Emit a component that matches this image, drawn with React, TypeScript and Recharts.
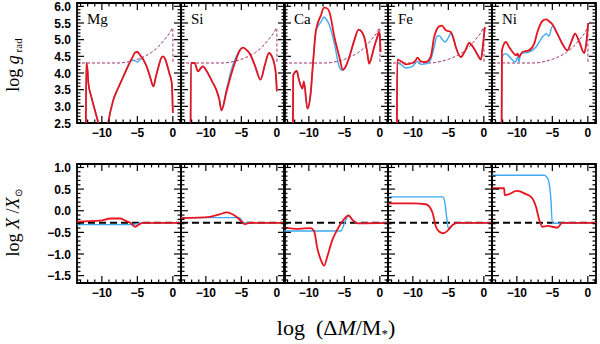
import React from "react";
import { LineChart, Line, XAxis, YAxis, ReferenceArea } from "recharts";

// x axis: log(ΔM/M*)
const X_DOMAIN: [number, number] = [-13.5, 1.15];
const X_MAJOR = [-10, -5, 0];
const X_MINOR_FROM = -13;
const X_MINOR_TO = 1;

// y axes
const TOP_DOMAIN: [number, number] = [2.5, 6.1];
const TOP_MAJOR = [2.5, 3.0, 3.5, 4.0, 4.5, 5.0, 5.5, 6.0];
const BOT_DOMAIN: [number, number] = [-1.67, 1.08];
const BOT_MAJOR = [-1.5, -1.0, -0.5, 0.0, 0.5, 1.0];

const ELEMENTS = ["Mg", "Si", "Ca", "Fe", "Ni"];

// dashed curve in the upper panels (same for each element)
const gravity = [
  [-13.5, 4.3], [-8, 4.3], [-7, 4.31], [-6, 4.35], [-5, 4.41], [-4, 4.5],
  [-3, 4.62], [-2, 4.8], [-1, 5.05], [-0.5, 5.18], [0, 5.35], [0.02, 4.3],
];

// log g_rad, red = full model, blue = reference model
const mgRed = [
  [-12.25, 2.3], [-12.2, 4.3], [-12.0, 4.05], [-11.9, 3.7], [-11.5, 3.3], [-11.0, 2.9],
  [-10.5, 2.5], [-10.2, 2.2], [-9.3, 2.2], [-9.1, 2.5], [-8.4, 3.18], [-7.7, 3.55],
  [-7.0, 3.88], [-6.25, 4.23], [-5.55, 4.53], [-5.3, 4.62], [-5.0, 4.63], [-4.6, 4.53],
  [-4.1, 4.38], [-3.66, 4.18], [-3.2, 3.88], [-2.73, 3.6], [-2.4, 3.88], [-2.0, 4.2],
  [-1.7, 4.42], [-1.4, 4.5], [-1.1, 4.43], [-0.85, 4.27], [-0.5, 4.0], [-0.14, 3.69], [0.0, 2.8],
];
const mgBlue = [
  [-12.25, 2.3], [-12.2, 4.3], [-12.0, 4.05], [-11.9, 3.7], [-11.5, 3.3], [-11.0, 2.9],
  [-10.5, 2.5], [-10.2, 2.2], [-9.3, 2.2], [-9.1, 2.5], [-8.4, 3.18], [-7.7, 3.55],
  [-7.0, 3.88], [-6.25, 4.25], [-5.8, 4.4], [-5.4, 4.37], [-5.0, 4.33], [-4.6, 4.4],
  [-4.3, 4.46], [-4.1, 4.38], [-3.66, 4.18], [-3.2, 3.88], [-2.73, 3.6], [-2.4, 3.88],
  [-2.0, 4.2], [-1.7, 4.42], [-1.4, 4.5], [-1.1, 4.43], [-0.85, 4.27], [-0.5, 4.0],
  [-0.14, 3.69], [0.0, 2.8],
];
const siRed = [
  [-12.15, 2.3], [-12.1, 4.3], [-11.6, 4.3], [-11.1, 4.05], [-10.7, 4.15], [-10.4, 4.2],
  [-10.0, 4.1], [-9.2, 3.78], [-8.5, 3.48], [-8.1, 3.2], [-7.8, 2.88], [-7.1, 3.43],
  [-6.4, 3.98], [-5.7, 4.43], [-5.2, 4.68], [-4.75, 4.76], [-4.3, 4.7], [-3.8, 4.58],
  [-3.1, 4.23], [-2.3, 3.8], [-1.7, 4.23], [-1.1, 4.6], [-0.7, 4.5], [-0.42, 4.33],
  [-0.15, 4.0], [0.0, 3.45],
];
const siBlue = [
  [-12.15, 2.3], [-12.1, 4.3], [-11.6, 4.3], [-11.1, 4.05], [-10.7, 4.15], [-10.4, 4.2],
  [-10.0, 4.1], [-9.2, 3.78], [-8.5, 3.48], [-8.1, 3.2], [-7.8, 2.88], [-7.1, 3.5],
  [-6.4, 4.1], [-5.7, 4.5], [-5.2, 4.7], [-4.75, 4.76], [-4.3, 4.7], [-3.8, 4.58],
  [-3.1, 4.23], [-2.3, 3.8], [-1.7, 4.23], [-1.1, 4.6], [-0.7, 4.5], [-0.42, 4.33],
  [-0.15, 4.0], [0.0, 3.45],
];
const caRed = [
  [-12.25, 2.3], [-12.2, 3.93], [-11.7, 4.06], [-11.4, 3.8], [-10.9, 3.53], [-10.7, 3.75],
  [-10.2, 2.93], [-9.75, 3.38], [-9.4, 4.33], [-9.0, 5.28], [-8.3, 5.73], [-7.85, 5.96],
  [-7.5, 5.95], [-7.1, 5.83], [-6.4, 5.08], [-5.7, 4.48], [-5.2, 4.1], [-4.8, 4.2],
  [-4.3, 4.48], [-3.6, 4.98], [-3.0, 5.3], [-2.6, 5.25], [-2.2, 5.08], [-1.8, 4.65],
  [-1.5, 4.28], [-1.2, 4.45], [-0.8, 4.78], [-0.4, 5.05], [-0.1, 5.23], [0.0, 5.1], [0.1, 4.63],
];
const caBlue = [
  [-12.25, 2.3], [-12.2, 3.93], [-11.7, 4.06], [-11.4, 3.8], [-10.9, 3.53], [-10.7, 3.75],
  [-10.2, 2.93], [-9.75, 3.38], [-9.4, 4.33], [-9.0, 5.28], [-8.3, 5.53], [-7.85, 5.68],
  [-7.5, 5.6], [-7.1, 5.43], [-6.4, 4.88], [-5.7, 4.18], [-5.3, 4.08], [-5.0, 4.12],
  [-4.8, 4.2], [-4.3, 4.48], [-3.6, 4.98], [-3.0, 5.3], [-2.6, 5.25], [-2.2, 5.08],
  [-1.8, 4.65], [-1.5, 4.28], [-1.2, 4.45], [-0.8, 4.78], [-0.4, 5.05], [-0.1, 5.23],
  [0.0, 5.1], [0.1, 4.63],
];
const feRed = [
  [-12.25, 2.3], [-12.2, 4.4], [-11.7, 4.36], [-11.0, 4.26], [-10.05, 4.3], [-9.6, 4.38],
  [-9.35, 4.46], [-8.9, 4.35], [-8.2, 4.33], [-7.5, 4.48], [-7.0, 5.08], [-6.6, 5.32],
  [-6.3, 5.4], [-5.9, 5.42], [-5.35, 5.28], [-4.65, 5.23], [-4.3, 5.05], [-3.95, 4.78],
  [-3.25, 4.48], [-2.6, 4.68], [-2.07, 4.9], [-1.37, 4.73], [-0.76, 4.5], [-0.42, 4.4],
  [-0.1, 4.88], [0.14, 5.38],
];
const feBlue = [
  [-12.25, 2.3], [-12.2, 4.3], [-11.7, 4.26], [-11.0, 4.15], [-10.05, 4.2], [-9.35, 4.35],
  [-8.9, 4.26], [-8.0, 4.28], [-7.5, 4.4], [-7.0, 4.78], [-6.6, 5.1], [-6.3, 5.12],
  [-5.8, 5.0], [-5.5, 4.93], [-4.9, 5.1], [-4.65, 5.2], [-4.3, 5.05], [-3.95, 4.78],
  [-3.25, 4.48], [-2.6, 4.68], [-2.07, 4.9], [-1.37, 4.73], [-0.76, 4.5], [-0.42, 4.4],
  [-0.1, 4.88], [0.14, 5.38],
];
const niRed = [
  [-12.15, 2.3], [-12.1, 4.68], [-11.55, 4.93], [-11.1, 4.78], [-10.6, 4.63], [-10.1, 4.53],
  [-9.9, 4.58], [-9.7, 4.48], [-9.2, 4.63], [-8.3, 4.68], [-7.55, 4.88], [-7.1, 5.23],
  [-6.4, 5.56], [-5.9, 5.61], [-5.5, 5.56], [-5.0, 5.46], [-4.3, 5.18], [-3.6, 4.88],
  [-2.9, 4.68], [-2.25, 4.98], [-1.8, 5.18], [-1.2, 4.93], [-0.5, 4.6], [-0.2, 4.93], [0.05, 5.5],
];
const niBlue = [
  [-12.15, 2.3], [-12.1, 4.5], [-11.55, 4.58], [-10.8, 4.43], [-10.2, 4.33], [-9.9, 4.48],
  [-9.7, 4.33], [-9.5, 4.58], [-8.3, 4.63], [-7.3, 4.78], [-6.4, 5.08], [-5.8, 5.18],
  [-5.5, 5.1], [-5.0, 5.4], [-4.3, 5.18], [-3.6, 4.88], [-2.9, 4.68], [-2.25, 4.98],
  [-1.8, 5.18], [-1.2, 4.93], [-0.5, 4.6], [-0.2, 4.93], [0.05, 5.5],
];

// log X/X_sun, lower panels
const solar = [[-13.5, -0.28], [1.15, -0.28]];
const mgRedX = [
  [-13.5, -0.25], [-10.2, -0.23], [-8.8, -0.18], [-7.4, -0.18], [-6.7, -0.23], [-6.0, -0.28],
  [-5.3, -0.37], [-4.9, -0.33], [-4.2, -0.28], [1.15, -0.28],
];
const mgBlueX = [[-13.5, -0.32], [-5.8, -0.32], [-5.0, -0.3], [-4.5, -0.28], [1.15, -0.28]];
const siRedX = [
  [-13.5, -0.17], [-9.4, -0.14], [-8.0, -0.08], [-7.05, -0.04], [-6.4, -0.07], [-5.7, -0.14],
  [-4.95, -0.25], [-4.5, -0.31], [-3.8, -0.28], [1.15, -0.28],
];
const siBlueX = [[-13.5, -0.16], [-5.3, -0.16], [-4.6, -0.28], [1.15, -0.28]];
const caRedX = [
  [-13.5, -0.39], [-11.4, -0.42], [-9.75, -0.4], [-9.25, -0.48], [-8.8, -0.87], [-8.3, -1.14],
  [-7.85, -1.27], [-7.4, -1.06], [-6.7, -0.68], [-6.0, -0.44], [-5.3, -0.25], [-4.4, -0.11],
  [-3.85, -0.21], [-3.15, -0.29], [1.15, -0.28],
];
const caBlueX = [
  [-13.5, -0.47], [-5.5, -0.47], [-4.9, -0.25], [-4.4, -0.11], [-3.85, -0.21], [-3.15, -0.29],
  [1.15, -0.28],
];
const feRedX = [
  [-13.5, 0.17], [-10, 0.17], [-8.2, 0.15], [-7.7, 0.1], [-7.2, -0.06], [-6.75, -0.37],
  [-6.3, -0.48], [-5.7, -0.52], [-5.1, -0.46], [-4.4, -0.33], [-3.7, -0.28], [1.15, -0.28],
];
const feBlueX = [
  [-13.5, 0.32], [-5.8, 0.32], [-5.5, 0.2], [-5.2, -0.2], [-5.0, -0.41], [-4.5, -0.34],
  [-4.0, -0.29], [1.15, -0.28],
];
const niRedX = [
  [-13.5, 0.52], [-11.8, 0.52], [-11.7, 0.36], [-10.85, 0.4], [-10.1, 0.46], [-9.45, 0.44],
  [-8.95, 0.4], [-8.0, 0.32], [-7.3, 0.09], [-6.85, -0.21], [-6.4, -0.37], [-5.7, -0.35],
  [-5.0, -0.37], [-4.3, -0.39], [-3.6, -0.28], [1.15, -0.28],
];
const niBlueX = [
  [-13.5, 0.82], [-6.15, 0.82], [-5.8, 0.78], [-5.55, 0.71], [-5.2, 0.25], [-5.0, -0.29],
  [1.15, -0.28],
];

const TOP_RED = [mgRed, siRed, caRed, feRed, niRed];
const TOP_BLUE = [mgBlue, siBlue, caBlue, feBlue, niBlue];
const BOT_RED = [mgRedX, siRedX, caRedX, feRedX, niRedX];
const BOT_BLUE = [mgBlueX, siBlueX, caBlueX, feBlueX, niBlueX];

const RED = "#e8141f";
const BLUE = "#3eaaf0";
const PURPLE = "#a0306a";
const PW = 104;
const ML = 40;
const COL_LEFT = [77, 181, 284, 388, 492];
const ROWS = [
  { top: 3, h: 120, domain: TOP_DOMAIN, major: TOP_MAJOR },
  { top: 164, h: 119, domain: BOT_DOMAIN, major: BOT_MAJOR },
];

const pts = (a: number[][]) => a.map(([x, y]) => ({ x, y }));
const steps = (from: number, to: number, step: number) => {
  const out: number[] = [];
  for (let v = from; v <= to + 1e-9; v += step) out.push(Math.round(v * 10) / 10);
  return out;
};
const isMajor = (v: number, major: number[]) => major.some((m) => Math.abs(m - v) < 1e-6);
const fmt = (v: number, digits: number) =>
  (v < 0 ? "\u2212" : "") + Math.abs(v).toFixed(digits);

const tickFont = { fontFamily: "'Liberation Sans', Arial, sans-serif", fontWeight: 700, fontSize: 12 };

function Panel({ row, col }: { row: number; col: number }) {
  const R = ROWS[row];
  const red = row === 0 ? TOP_RED[col] : BOT_RED[col];
  const blue = row === 0 ? TOP_BLUE[col] : BOT_BLUE[col];
  const yTicks = steps(Math.ceil(R.domain[0] * 10) / 10, R.domain[1], 0.1);
  const xTicks = steps(X_MINOR_FROM, X_MINOR_TO, 1);

  const XTick = (p: any) => {
    const v = p.payload.value;
    const major = isMajor(v, X_MAJOR);
    const len = major ? 7 : 3.5;
    return (
      <g>
        <line x1={p.x} x2={p.x} y1={p.y} y2={p.y - len} stroke="#000" strokeWidth={1.2} />
        <line x1={p.x} x2={p.x} y1={p.y - R.h} y2={p.y - R.h + len} stroke="#000" strokeWidth={1.2} />
        {major && (
          <text x={p.x} y={p.y + 14} textAnchor="middle" {...tickFont} fill="#000">
            {fmt(v, 0)}
          </text>
        )}
      </g>
    );
  };

  const YTick = (p: any) => {
    const v = p.payload.value;
    const major = isMajor(v, R.major);
    const len = major ? 7 : 3.5;
    return (
      <g>
        <line x1={p.x} x2={p.x + len} y1={p.y} y2={p.y} stroke="#000" strokeWidth={1.2} />
        <line x1={p.x + PW} x2={p.x + PW - len} y1={p.y} y2={p.y} stroke="#000" strokeWidth={1.2} />
        {major && col === 0 && (
          <text x={p.x - 6} y={p.y + 4.5} textAnchor="end" {...tickFont} fill="#000">
            {fmt(v, 1)}
          </text>
        )}
      </g>
    );
  };

  return (
    <div style={{ position: "absolute", left: COL_LEFT[col] - ML, top: R.top - 4 }}>
      <LineChart
        width={ML + PW + 4}
        height={4 + R.h + 22}
        margin={{ top: 4, right: 4, left: 0, bottom: 0 }}
      >
        <XAxis
          type="number"
          dataKey="x"
          domain={X_DOMAIN}
          allowDataOverflow
          ticks={xTicks}
          interval={0}
          height={22}
          tickSize={0}
          tickMargin={0}
          tickLine={false}
          axisLine={false}
          tick={XTick}
        />
        <YAxis
          type="number"
          dataKey="y"
          domain={R.domain}
          allowDataOverflow
          ticks={yTicks}
          interval={0}
          width={ML}
          tickSize={0}
          tickMargin={0}
          tickLine={false}
          axisLine={false}
          tick={YTick}
        />
        {row === 0 ? (
          <Line
            data={pts(gravity)}
            dataKey="y"
            type="monotone"
            stroke={PURPLE}
            strokeWidth={1}
            strokeDasharray="3 2"
            dot={false}
            isAnimationActive={false}
          />
        ) : (
          <Line
            data={pts(solar)}
            dataKey="y"
            type="linear"
            stroke="#000"
            strokeWidth={2}
            strokeDasharray="7 4"
            dot={false}
            isAnimationActive={false}
          />
        )}
        <Line data={pts(blue)} dataKey="y" type="monotone" stroke={BLUE} strokeWidth={1.4} dot={false} isAnimationActive={false} />
        <Line data={pts(red)} dataKey="y" type="monotone" stroke={RED} strokeWidth={1.8} dot={false} isAnimationActive={false} />
        <ReferenceArea
          x1={X_DOMAIN[0]}
          x2={X_DOMAIN[1]}
          y1={R.domain[0]}
          y2={R.domain[1]}
          fill="none"
          stroke="#000"
          strokeWidth={1.8}
          ifOverflow="visible"
        />
      </LineChart>
    </div>
  );
}

export default function App() {
  const serif = "'Liberation Serif', 'Times New Roman', serif";
  return (
    <div style={{ position: "absolute", left: 0, top: 0, width: 600, height: 344, background: "#fff" }}>
      {[0, 1].map((row) => ELEMENTS.map((_, col) => <Panel key={`${row}-${col}`} row={row} col={col} />))}
      <svg width={600} height={344} style={{ position: "absolute", left: 0, top: 0, pointerEvents: "none" }}>
        {ELEMENTS.map((el, col) => (
          <text key={el} x={COL_LEFT[col] + 10} y={24} fontFamily={serif} fontSize={15} fill="#000">
            {el}
          </text>
        ))}
        <text transform="translate(19,65) rotate(-90)" textAnchor="middle" fontFamily={serif} fontSize={18} fill="#000">
          log <tspan fontStyle="italic">g</tspan>
          <tspan fontSize={11} dy={3}> rad</tspan>
        </text>
        <text transform="translate(19,223) rotate(-90)" textAnchor="middle" fontFamily={serif} fontSize={18} fill="#000" style={{ whiteSpace: "pre" }}>
          log <tspan fontStyle="italic">X</tspan> /<tspan fontStyle="italic">X</tspan>
          <tspan fontSize={10} dy={3}>{"\u2299"}</tspan>
        </text>
        <text x={336} y={335} textAnchor="middle" fontFamily={serif} fontSize={22} fill="#000" style={{ whiteSpace: "pre" }}>
          {"log  (\u0394"}
          <tspan fontStyle="italic">M</tspan>/M
          <tspan fontSize={13} dy={3}>*</tspan>
          <tspan dy={-3}>)</tspan>
        </text>
      </svg>
    </div>
  );
}
